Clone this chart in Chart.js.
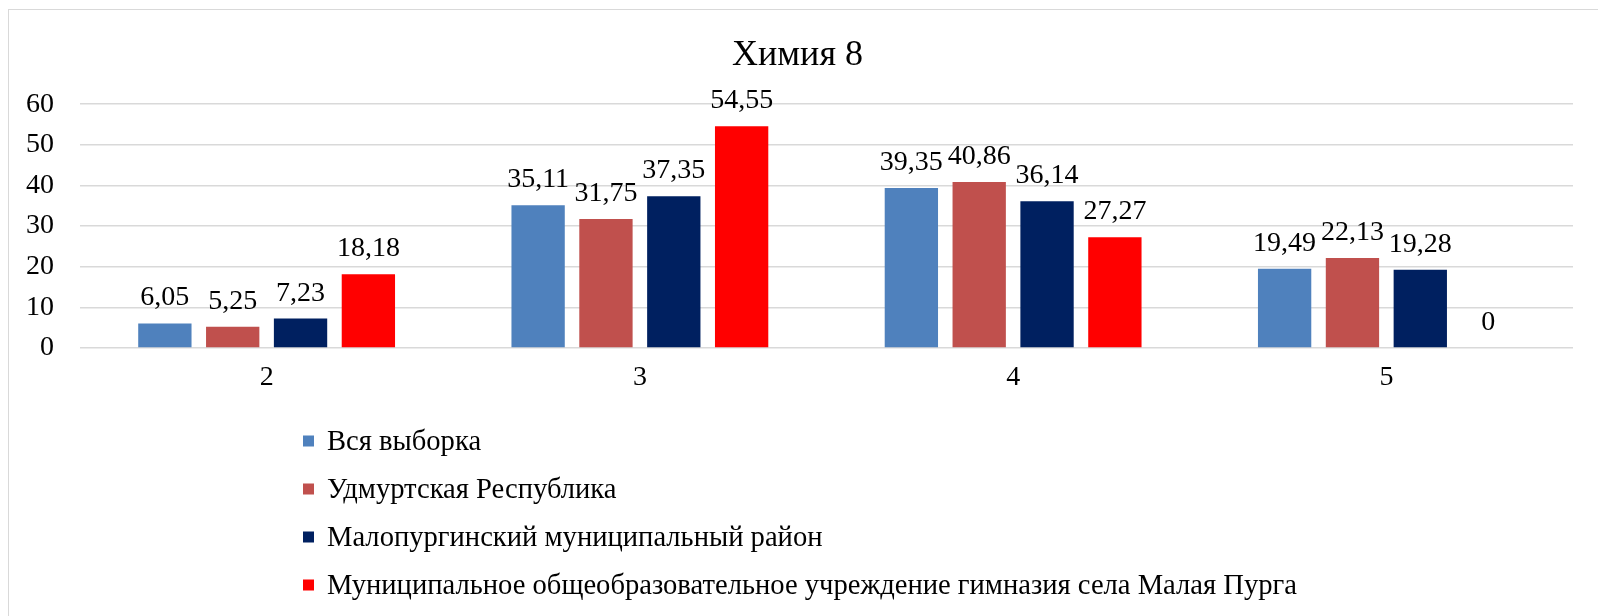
<!DOCTYPE html>
<html>
<head>
<meta charset="utf-8">
<script src="https://cdn.jsdelivr.net/npm/chart.js@4"></script>
<style>
  body { margin: 0; background: #fff; overflow: hidden; }
  #wrap { position: relative; width: 1598px; height: 616px; }
  #frame {
    position: absolute; left: 8px; top: 9px; width: 1600px; height: 620px;
    border-left: 1px solid #d9d9d9; border-top: 1px solid #d9d9d9;
    pointer-events: none;
  }
</style>
</head>
<body>
<div id="wrap">
  <div id="frame"></div>
  <canvas id="chart"></canvas>
</div>
<script>
// ===== DATA =====
const categories = ["2", "3", "4", "5"]
const seriesNames = [
  "Вся выборка",
  "Удмуртская Республика",
  "Малопургинский муниципальный район",
  "Муниципальное общеобразовательное учреждение гимназия села Малая Пурга"
]
const allSample   = [6.05, 35.11, 39.35, 19.49]
const udmurtia    = [5.25, 31.75, 40.86, 22.13]
const maloPurga   = [7.23, 37.35, 36.14, 19.28]
const gymnasium   = [18.18, 54.55, 27.27, 0]
const yTicks      = [0, 10, 20, 30, 40, 50, 60]

const colors = ["#4f81bd", "#c0504d", "#002060", "#ff0000"]
const FONT = "'Liberation Serif', 'Times New Roman', serif"

// ===== PLUGINS =====
// value labels above bars, comma decimals
const valueLabels = {
  id: "valueLabels",
  afterDatasetsDraw(chart) {
    const ctx = chart.ctx
    ctx.save()
    ctx.font = `28px ${FONT}`
    ctx.fillStyle = "#000"
    ctx.textAlign = "center"
    ctx.textBaseline = "alphabetic"
    chart.data.datasets.forEach((ds, i) => {
      chart.getDatasetMeta(i).data.forEach((bar, j) => {
        const txt = String(ds.data[j]).replace(".", ",")
        ctx.fillText(txt, bar.x, bar.y - 18)
      })
    })
    ctx.restore()
  }
}

// vertical legend list under the axis
const listLegend = {
  id: "listLegend",
  afterDraw(chart) {
    const ctx = chart.ctx
    const top = chart.chartArea.bottom + 93
    ctx.save()
    ctx.font = `28.6px ${FONT}`
    ctx.textBaseline = "middle"
    ctx.textAlign = "left"
    chart.data.datasets.forEach((ds, i) => {
      const y = top + i * 48
      ctx.fillStyle = ds.backgroundColor
      ctx.fillRect(303, y - 5.5, 11, 11)
      ctx.fillStyle = "#000"
      ctx.fillText(ds.label, 327, y + 1)
    })
    ctx.restore()
  }
}

// ===== CHART =====
const seriesData = [allSample, udmurtia, maloPurga, gymnasium]

new Chart(document.getElementById("chart"), {
  type: "bar",
  data: {
    labels: categories,
    datasets: seriesData.map((d, i) => ({
      label: seriesNames[i],
      data: d,
      backgroundColor: colors[i],
      categoryPercentage: 0.727,
      barPercentage: 0.786
    }))
  },
  options: {
    responsive: true,
    maintainAspectRatio: false,
    animation: false,
    layout: { padding: { left: 22, right: 25, top: 0, bottom: 0 } },
    plugins: {
      legend: { display: false },
      tooltip: { enabled: false },
      title: {
        display: true,
        text: "Химия 8",
        color: "#000",
        font: { family: FONT, size: 36, weight: "normal" },
        padding: { top: 34, bottom: 27 }
      }
    },
    scales: {
      x: {
        grid: { display: false },
        border: { display: false },
        ticks: { color: "#000", font: { family: FONT, size: 28 }, padding: 5 },
        afterFit: axis => { axis.height = 268 }
      },
      y: {
        min: 0,
        max: 60,
        afterBuildTicks: axis => { axis.ticks = yTicks.map(v => ({ value: v })) },
        grid: { color: "#d9d9d9", lineWidth: 1.5, drawTicks: false },
        border: { display: false },
        ticks: { color: "#000", font: { family: FONT, size: 28 }, padding: 26 },
        afterFit: axis => { axis.width = 58 }
      }
    }
  },
  plugins: [valueLabels, listLegend]
})
</script>
</body>
</html>
